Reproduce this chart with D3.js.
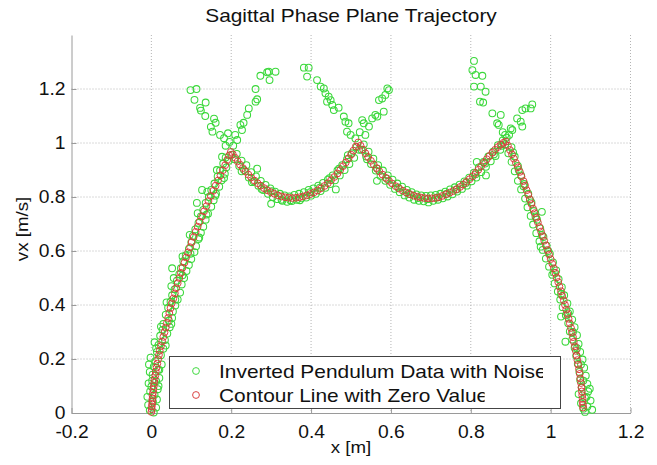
<!DOCTYPE html>
<html lang="en">
<head>
<meta charset="UTF-8" />
<title>Sagittal Phase Plane Trajectory</title>
<script src="https://d3js.org/d3.v7.min.js"></script>
<style>
  body { margin: 0; background: #fff; }
  svg { display: block; font-family: "Liberation Sans", Arial, sans-serif; }
  .grid line { stroke: #b4b4b4; stroke-dasharray: 1,2; }
  .axis path, .axis line { stroke: #9a9a9a; }
  .axis text { fill: #111; font-size: 17.5px; }
</style>
</head>
<body>
<svg id="chart" width="657" height="465"></svg>
<script>
// ticks
const xTicks = [-0.2, 0, 0.2, 0.4, 0.6, 0.8, 1, 1.2];
const yTicks = [0, 0.2, 0.4, 0.6, 0.8, 1, 1.2];

// contour line with zero value (red)
const contour = [
  [0.000,0.004],[0.001,0.014],[0.001,0.024],[0.002,0.034],[0.002,0.044],[0.003,0.054],[0.003,0.064],[0.004,0.075],
  [0.005,0.087],[0.006,0.099],[0.007,0.112],[0.008,0.125],[0.010,0.139],[0.011,0.153],[0.013,0.168],[0.015,0.183],
  [0.017,0.199],[0.019,0.215],[0.021,0.231],[0.024,0.248],[0.027,0.265],[0.030,0.282],[0.033,0.299],[0.036,0.316],
  [0.039,0.334],[0.042,0.352],[0.045,0.370],[0.048,0.388],[0.051,0.406],[0.055,0.424],[0.059,0.443],[0.062,0.462],
  [0.066,0.481],[0.070,0.500],[0.074,0.519],[0.078,0.538],[0.083,0.557],[0.087,0.576],[0.092,0.595],[0.097,0.614],
  [0.101,0.633],[0.106,0.652],[0.111,0.671],[0.116,0.690],[0.121,0.709],[0.127,0.728],[0.132,0.747],[0.138,0.766],
  [0.143,0.785],[0.149,0.804],[0.155,0.823],[0.161,0.842],[0.167,0.861],[0.173,0.880],[0.179,0.899],[0.185,0.918],
  [0.190,0.937],[0.195,0.954],[0.199,0.967],
  [0.204,0.958],[0.210,0.945],[0.216,0.932],[0.222,0.920],[0.229,0.907],[0.236,0.895],[0.243,0.883],[0.250,0.872],
  [0.258,0.861],[0.266,0.851],[0.274,0.842],[0.282,0.833],[0.290,0.825],[0.299,0.818],[0.308,0.812],[0.317,0.806],
  [0.326,0.802],[0.335,0.799],[0.344,0.797],[0.353,0.796],[0.362,0.797],[0.371,0.799],[0.380,0.802],[0.389,0.806],
  [0.398,0.811],[0.407,0.817],[0.416,0.824],[0.425,0.832],[0.434,0.841],[0.442,0.851],[0.450,0.862],[0.458,0.874],
  [0.466,0.887],[0.473,0.900],[0.480,0.914],[0.487,0.928],[0.494,0.943],[0.500,0.957],[0.506,0.972],[0.512,0.987],
  [0.518,1.002],
  [0.524,0.990],[0.530,0.976],[0.536,0.962],[0.543,0.948],[0.550,0.934],[0.557,0.920],[0.564,0.907],[0.571,0.895],
  [0.579,0.883],[0.587,0.871],[0.595,0.860],[0.603,0.850],[0.612,0.840],[0.621,0.831],[0.630,0.823],[0.639,0.816],
  [0.648,0.810],[0.657,0.805],[0.666,0.801],[0.675,0.798],[0.684,0.796],[0.693,0.795],[0.702,0.795],[0.711,0.796],
  [0.720,0.799],[0.729,0.804],[0.738,0.810],[0.747,0.816],[0.756,0.822],[0.765,0.829],[0.773,0.837],[0.781,0.846],
  [0.789,0.856],[0.797,0.866],[0.805,0.877],[0.812,0.889],[0.819,0.901],[0.826,0.914],[0.833,0.927],[0.840,0.940],
  [0.847,0.952],[0.854,0.964],[0.861,0.975],[0.868,0.985],[0.875,0.994],[0.882,1.001],[0.888,1.005],
  [0.893,0.990],[0.898,0.974],[0.903,0.958],[0.908,0.942],[0.913,0.926],[0.918,0.910],[0.923,0.893],[0.927,0.876],
  [0.932,0.859],[0.936,0.842],[0.940,0.825],[0.944,0.808],[0.948,0.791],[0.952,0.774],[0.956,0.757],[0.960,0.740],
  [0.964,0.723],[0.968,0.706],[0.972,0.689],[0.976,0.672],[0.980,0.655],[0.984,0.638],[0.988,0.621],[0.992,0.604],
  [0.996,0.587],[1.000,0.570],[1.004,0.553],[1.008,0.536],[1.012,0.519],[1.015,0.502],[1.019,0.485],[1.022,0.468],
  [1.026,0.451],[1.029,0.434],[1.033,0.417],[1.036,0.400],[1.039,0.383],[1.042,0.366],[1.045,0.349],[1.048,0.332],
  [1.051,0.315],[1.053,0.298],[1.056,0.281],[1.058,0.264],[1.061,0.247],[1.063,0.230],[1.065,0.213],[1.067,0.196],
  [1.069,0.179],[1.071,0.162],[1.073,0.145],[1.074,0.128],[1.076,0.111],[1.077,0.095],[1.078,0.080],[1.079,0.066],
  [1.080,0.053],[1.080,0.041],[1.081,0.030],[1.081,0.020]
];

// inverted pendulum data with noise (green)
const noisy = [
  // step 1 rising
  [-0.004,0.010],[0.006,0.002],[0.012,0.020],[-0.008,0.030],[0.004,0.042],[0.014,0.050],[-0.010,0.060],[0.008,0.068],
  [-0.003,0.080],[0.016,0.088],[0.000,0.098],[-0.007,0.110],[0.012,0.118],[0.020,0.130],[0.003,0.142],[-0.004,0.152],
  [0.017,0.160],[0.006,0.172],[0.026,0.180],[0.010,0.192],[-0.002,0.205],[0.024,0.214],[0.014,0.226],[0.030,0.238],
  [0.018,0.252],[0.008,0.262],[0.034,0.270],[0.022,0.286],[0.040,0.294],[0.028,0.308],[0.046,0.318],[0.030,0.330],
  [0.044,0.342],[0.052,0.352],[0.036,0.364],[0.054,0.376],[0.042,0.390],[0.060,0.398],[0.048,0.412],[0.066,0.420],
  [0.052,0.436],[0.072,0.446],[0.058,0.458],[0.050,0.470],[0.076,0.476],[0.064,0.490],[0.082,0.500],[0.070,0.514],
  [0.088,0.526],[0.074,0.536],[0.094,0.548],[0.080,0.562],[0.100,0.570],[0.086,0.584],[0.108,0.596],[0.094,0.608],
  [0.112,0.618],[0.100,0.632],[0.118,0.644],[0.104,0.656],[0.124,0.668],[0.110,0.680],[0.130,0.690],[0.118,0.704],
  [0.136,0.716],[0.124,0.728],[0.142,0.738],[0.130,0.752],[0.150,0.764],[0.136,0.778],[0.156,0.788],[0.144,0.800],
  [0.162,0.812],[0.150,0.826],[0.170,0.838],[0.158,0.850],[0.176,0.862],[0.166,0.876],[0.184,0.886],[0.172,0.898],
  [0.188,0.910],[0.180,0.924],[0.194,0.934],[0.186,0.946],[0.200,0.956],
  [0.052,0.536],[0.127,0.826],[0.114,0.778],[0.177,0.949],
  [0.002,0.120],[0.018,0.100],[-0.006,0.180],[0.020,0.160],[0.012,0.240],[0.036,0.250],[0.024,0.320],[0.050,0.330],
  [0.038,0.410],[0.060,0.420],[0.056,0.500],[0.078,0.510],[0.078,0.580],[0.098,0.590],[0.096,0.660],[0.120,0.650],
  [0.116,0.740],[0.138,0.735],[0.140,0.820],[0.160,0.805],[0.164,0.900],[0.182,0.870],
  // step 2
  [0.208,0.940],[0.214,0.960],[0.220,0.915],[0.226,0.935],[0.232,0.900],[0.238,0.918],[0.244,0.872],[0.250,0.892],
  [0.256,0.858],[0.262,0.876],[0.268,0.842],[0.274,0.860],[0.280,0.826],[0.286,0.845],[0.292,0.812],[0.298,0.832],
  [0.304,0.800],[0.310,0.820],[0.316,0.792],[0.322,0.812],[0.328,0.786],[0.334,0.806],[0.340,0.782],[0.346,0.802],
  [0.352,0.785],[0.358,0.808],[0.364,0.790],[0.370,0.812],[0.376,0.795],[0.382,0.818],[0.388,0.798],[0.394,0.826],
  [0.400,0.805],[0.406,0.832],[0.412,0.812],[0.418,0.842],[0.424,0.822],[0.430,0.852],[0.436,0.834],[0.442,0.864],
  [0.448,0.848],[0.454,0.880],[0.460,0.862],[0.466,0.898],[0.472,0.880],[0.478,0.918],[0.484,0.900],[0.490,0.940],
  [0.496,0.922],[0.502,0.962],[0.508,0.945],[0.514,0.985],[0.520,0.975],
  [0.265,0.905],[0.462,0.828],[0.300,0.775],
  [0.226,0.895],[0.252,0.855],[0.276,0.830],[0.302,0.822],[0.326,0.790],[0.348,0.788],[0.372,0.788],[0.398,0.818],
  [0.422,0.835],[0.446,0.870],[0.470,0.905],[0.492,0.955],
  // step 3
  [0.526,0.975],[0.532,0.995],[0.538,0.950],[0.544,0.968],[0.550,0.922],[0.556,0.942],[0.562,0.898],[0.568,0.918],
  [0.574,0.878],[0.580,0.898],[0.586,0.860],[0.592,0.880],[0.598,0.845],[0.604,0.864],[0.610,0.830],[0.616,0.850],
  [0.622,0.818],[0.628,0.838],[0.634,0.806],[0.640,0.826],[0.646,0.798],[0.652,0.818],[0.658,0.790],[0.664,0.810],
  [0.670,0.786],[0.676,0.806],[0.682,0.784],[0.688,0.804],[0.694,0.780],[0.700,0.806],[0.706,0.786],[0.712,0.808],
  [0.718,0.790],[0.724,0.812],[0.730,0.795],[0.736,0.820],[0.742,0.802],[0.748,0.828],[0.754,0.810],[0.760,0.836],
  [0.766,0.820],[0.772,0.846],[0.778,0.830],[0.784,0.858],[0.790,0.842],[0.796,0.872],[0.802,0.858],[0.808,0.890],
  [0.814,0.872],[0.820,0.910],[0.826,0.892],[0.832,0.930],[0.838,0.912],[0.844,0.950],[0.850,0.932],[0.856,0.968],
  [0.862,0.952],[0.868,0.992],[0.874,0.975],[0.880,1.010],[0.886,0.995],
  [0.565,0.860],[0.815,0.930],[0.838,0.880],
  [0.540,0.940],[0.566,0.905],[0.590,0.868],[0.618,0.835],[0.644,0.812],[0.668,0.796],[0.692,0.792],[0.716,0.798],
  [0.740,0.812],[0.764,0.828],[0.788,0.852],[0.812,0.884],[0.836,0.924],[0.858,0.958],[0.878,0.990],
  // step 4 falling
  [0.890,1.020],[0.902,0.985],[0.894,0.962],[0.910,0.950],[0.902,0.930],[0.918,0.915],[0.910,0.895],[0.926,0.880],
  [0.918,0.860],[0.934,0.848],[0.926,0.828],[0.944,0.812],[0.936,0.794],[0.952,0.780],[0.942,0.762],[0.958,0.748],
  [0.950,0.730],[0.966,0.716],[0.956,0.698],[0.974,0.684],[0.964,0.666],[0.982,0.652],[0.972,0.636],[0.990,0.620],
  [0.980,0.604],[0.998,0.590],[0.988,0.572],[1.006,0.558],[0.996,0.542],[1.014,0.528],[1.004,0.512],[1.020,0.496],
  [1.010,0.480],[1.028,0.466],[1.018,0.450],[1.034,0.436],[1.024,0.420],[1.042,0.406],[1.030,0.392],[1.048,0.376],
  [1.038,0.362],[1.054,0.346],[1.044,0.332],[1.060,0.318],[1.048,0.302],[1.066,0.288],[1.054,0.272],[1.070,0.256],
  [1.060,0.242],[1.074,0.226],[1.064,0.212],[1.080,0.198],[1.068,0.182],[1.084,0.168],[1.072,0.152],[1.088,0.138],
  [1.074,0.122],[1.092,0.108],[1.078,0.094],[1.094,0.080],[1.070,0.070],[1.086,0.056],[1.100,0.046],[1.076,0.036],
  [1.092,0.024],[1.104,0.012],[1.086,0.004],
  [1.037,0.264],[1.026,0.357],[0.975,0.616],[0.978,0.745],
  [0.906,0.965],[0.920,0.900],[0.932,0.840],[0.948,0.790],[0.962,0.728],[0.978,0.660],[0.994,0.600],[1.008,0.520],
  [1.026,0.440],[1.044,0.370],[1.056,0.300],[1.066,0.240],[1.076,0.180],[1.082,0.120],[1.090,0.060],[1.082,0.016],
  [1.098,0.090],
  // branches beyond the crossings
  [0.098,1.196],[0.113,1.200],[0.108,1.160],[0.136,1.150],[0.122,1.130],[0.124,1.120],[0.135,1.100],[0.157,1.090],
  [0.161,1.075],[0.149,1.060],[0.153,1.042],[0.172,1.030],[0.182,1.018],[0.192,1.036],[0.186,0.990],[0.196,1.004],
  [0.215,1.011],[0.223,1.067],[0.227,1.048],[0.231,1.075],[0.240,1.104],[0.244,1.128],[0.261,1.153],[0.265,1.162],
  [0.261,1.200],[0.273,1.249],[0.290,1.262],[0.294,1.264],[0.311,1.264],[0.296,1.233],[0.205,0.990],[0.210,1.030],
  [0.382,1.279],[0.394,1.279],[0.390,1.246],[0.415,1.233],[0.424,1.209],[0.432,1.202],[0.436,1.184],[0.444,1.172],
  [0.449,1.159],[0.440,1.153],[0.453,1.141],[0.469,1.131],[0.457,1.122],[0.482,1.098],[0.486,1.079],[0.494,1.073],
  [0.490,1.042],[0.499,1.030],[0.511,1.017],
  [0.528,1.085],[0.532,1.073],[0.545,1.061],[0.553,1.091],[0.561,1.104],[0.566,1.098],[0.582,1.116],[0.570,1.159],
  [0.578,1.165],[0.586,1.178],[0.591,1.202],[0.595,1.196],[0.522,1.040],[0.536,1.030],
  [0.808,1.304],[0.804,1.270],[0.812,1.252],[0.829,1.249],[0.808,1.209],[0.825,1.209],[0.837,1.190],[0.823,1.153],
  [0.831,1.150],[0.854,1.110],[0.875,1.104],[0.866,1.073],[0.870,1.067],[0.880,1.040],[0.886,1.030],
  [0.900,1.054],[0.904,1.048],[0.916,1.091],[0.929,1.122],[0.937,1.128],[0.950,1.128],[0.954,1.143],[0.925,1.079],
  [0.929,1.061],[0.896,1.030]
];

const legendLabels = ["Inverted Pendulum Data with Noise", "Contour Line with Zero Value"];
const colors = ["#3ad83a", "#d83a3a"];

const svg = d3.select("#chart");
const plotL = 71.5, plotR = 630.5, plotT = 35, plotB = 413;
const x = d3.scaleLinear().domain([-0.2, 1.2]).range([plotL, plotR]);
const y = d3.scaleLinear().domain([0, 1.4]).range([plotB, plotT]);
const fmt = d => String(+d.toFixed(1));
const R = 3.4;

// stretch texts a little wider, the original figure is slightly widened
function stretch(sel, k) {
  sel.each(function() {
    const w = this.getComputedTextLength();
    d3.select(this).attr("textLength", w * k).attr("lengthAdjust", "spacingAndGlyphs");
  });
}

// grid
const grid = svg.append("g").attr("class", "grid");
grid.selectAll(".vx").data(xTicks.filter(d => d > -0.2)).join("line")
  .attr("x1", d => x(d)).attr("x2", d => x(d)).attr("y1", plotT).attr("y2", plotB);
grid.selectAll(".hy").data(yTicks.filter(d => d > 0)).join("line")
  .attr("x1", plotL).attr("x2", plotR).attr("y1", d => y(d)).attr("y2", d => y(d));

// axes
svg.append("g").attr("class", "axis").attr("transform", `translate(0,${plotB})`)
  .call(d3.axisBottom(x).tickValues(xTicks).tickFormat(fmt).tickSizeInner(-5).tickSizeOuter(0).tickPadding(13));
svg.append("g").attr("class", "axis").attr("transform", `translate(${plotL},0)`)
  .call(d3.axisLeft(y).tickValues(yTicks).tickFormat(fmt).tickSizeInner(-5).tickSizeOuter(0).tickPadding(6));
svg.selectAll(".axis text").attr("font-family", null);
stretch(svg.selectAll(".axis text"), 1.1);

// points
svg.append("g").selectAll("circle").data(noisy).join("circle")
  .attr("cx", d => x(d[0])).attr("cy", d => y(d[1])).attr("r", R)
  .attr("fill", "none").attr("stroke", colors[0]).attr("stroke-width", 1.05);
svg.append("g").selectAll("circle").data(contour).join("circle")
  .attr("cx", d => x(d[0])).attr("cy", d => y(d[1])).attr("r", R)
  .attr("fill", "none").attr("stroke", colors[1]).attr("stroke-width", 0.95);

// title and labels
svg.append("text").attr("x", 351).attr("y", 22).attr("text-anchor", "middle")
  .style("font-size", "19px").attr("fill", "#111").text("Sagittal Phase Plane Trajectory")
  .call(stretch, 1.1);
svg.append("text").attr("x", 351).attr("y", 453).attr("text-anchor", "middle")
  .style("font-size", "17px").attr("fill", "#111").text("x [m]").call(stretch, 1.1);
svg.append("text").attr("transform", "translate(28,229) rotate(-90)").attr("text-anchor", "middle")
  .style("font-size", "17px").attr("fill", "#111").text("vx [m/s]").call(stretch, 1.1);

// legend
const lg = svg.append("g");
lg.append("rect").attr("x", 169.5).attr("y", 356.5).attr("width", 391).attr("height", 52)
  .attr("fill", "#fff").attr("stroke", "#444").attr("stroke-width", 1);
const defs = svg.append("defs");
legendLabels.forEach((lab, i) => {
  const cy = 371 + i * 24;
  lg.append("circle").attr("cx", 196).attr("cy", cy).attr("r", R)
    .attr("fill", "none").attr("stroke", colors[i]).attr("stroke-width", 0.95);
  const t = lg.append("text").attr("x", 219).attr("y", cy + 6.5)
    .style("font-size", "19px").attr("fill", "#111").text(lab).call(stretch, 1.1);
  const w = +t.attr("textLength");
  defs.append("clipPath").attr("id", "lc" + i).append("rect")
    .attr("x", 215).attr("y", cy - 16).attr("width", w + 4 - 3.5).attr("height", 30);
  t.attr("clip-path", `url(#lc${i})`);
});
</script>
</body>
</html>
